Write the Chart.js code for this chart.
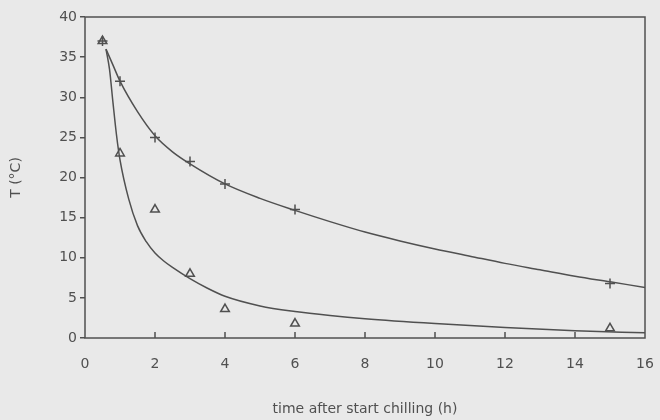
<!DOCTYPE html>
<html>
<head>
<meta charset="utf-8">
<script src="https://cdn.jsdelivr.net/npm/chart.js@4.4.1/dist/chart.umd.min.js"></script>
<style>
  html, body { margin: 0; padding: 0; background: #e9e9e9; }
  #wrap { width: 660px; height: 420px; position: relative; }
</style>
</head>
<body>
<div id="wrap"><canvas id="chart" width="660" height="420"></canvas></div>
<script>
// measured points
const hours = [0.5, 1, 2, 3, 4, 6, 15];
const plusTemps = [37, 32, 25, 22, 19.2, 16, 6.8];
const triTemps = [37, 23, 16, 8, 3.6, 1.8, 1.2];

// fitted curves
const upperFitX = [0.6, 0.8, 1, 1.5, 2, 2.5, 3, 4, 5, 6, 7, 8, 9, 10, 11, 12, 13, 14, 15, 16];
const upperFitT = [36, 34, 32, 28.2, 25.2, 23.2, 21.7, 19.2, 17.4, 15.9, 14.5, 13.2, 12.1, 11.1, 10.2, 9.3, 8.5, 7.7, 7.0, 6.3];
const lowerFitX = [0.6, 0.7, 0.8, 0.9, 1, 1.25, 1.5, 1.75, 2, 2.25, 2.5, 3, 3.5, 4, 5, 6, 7, 8, 10, 12, 14, 16];
const lowerFitT = [36, 33.5, 29.3, 25.3, 22.2, 17.3, 14.0, 12.0, 10.6, 9.6, 8.8, 7.4, 6.2, 5.2, 4.0, 3.3, 2.8, 2.4, 1.8, 1.3, 0.9, 0.65];

const xTicks = [0, 2, 4, 6, 8, 10, 12, 14, 16];
const yTicks = [0, 5, 10, 15, 20, 25, 30, 35, 40];

const ink = '#505050';
const font = { family: 'DejaVu Sans', size: 14 };

const toXY = (xs, ys) => xs.map((x, i) => ({ x: x, y: ys[i] }));

// box round the plot and inward x ticks
const framePlugin = {
  id: 'frame',
  afterDatasetsDraw(chart) {
    const { ctx, chartArea } = chart;
    const xs = chart.scales.x;
    ctx.save();
    ctx.strokeStyle = ink;
    ctx.lineWidth = 1.5;
    ctx.strokeRect(chartArea.left, chartArea.top, chartArea.right - chartArea.left, chartArea.bottom - chartArea.top);
    ctx.beginPath();
    xTicks.slice(1, -1).forEach(v => {
      const px = xs.getPixelForValue(v);
      ctx.moveTo(px, chartArea.bottom);
      ctx.lineTo(px, chartArea.bottom - 6);
    });
    ctx.stroke();
    ctx.restore();
  }
};

new Chart(document.getElementById('chart'), {
  type: 'scatter',
  data: {
    datasets: [
      {
        data: toXY(upperFitX, upperFitT),
        showLine: true,
        borderColor: ink,
        borderWidth: 1.5,
        pointRadius: 0,
        cubicInterpolationMode: 'monotone'
      },
      {
        data: toXY(lowerFitX, lowerFitT),
        showLine: true,
        borderColor: ink,
        borderWidth: 1.5,
        pointRadius: 0,
        cubicInterpolationMode: 'monotone'
      },
      {
        data: toXY(hours, plusTemps),
        pointStyle: 'cross',
        pointRadius: 5,
        borderColor: ink,
        borderWidth: 1.5,
        backgroundColor: ink
      },
      {
        data: toXY(hours, triTemps),
        pointStyle: 'triangle',
        pointRadius: 5,
        borderColor: ink,
        borderWidth: 1.5,
        backgroundColor: 'rgba(0,0,0,0)'
      }
    ]
  },
  options: {
    responsive: false,
    animation: false,
    layout: { padding: { top: 17, right: 15, left: 0, bottom: 0 } },
    plugins: { legend: { display: false }, tooltip: { enabled: false } },
    scales: {
      x: {
        type: 'linear',
        min: 0,
        max: 16,
        afterBuildTicks: s => { s.ticks = xTicks.map(v => ({ value: v })); },
        afterFit: s => { s.height = 82; s.paddingLeft = 0; s.paddingRight = 0; },
        grid: { display: false },
        border: { display: false },
        ticks: { color: ink, font: font, padding: 10, maxRotation: 0 },
        title: {
          display: true,
          text: 'time after start chilling (h)',
          color: ink,
          font: font,
          padding: { top: 0, bottom: 2 }
        }
      },
      y: {
        type: 'linear',
        min: 0,
        max: 40,
        afterBuildTicks: s => { s.ticks = yTicks.map(v => ({ value: v })); },
        afterFit: s => { s.width = 85; s.paddingTop = 0; s.paddingBottom = 0; },
        grid: { drawOnChartArea: false, tickLength: 5, color: ink, lineWidth: 1.5 },
        border: { display: false },
        ticks: { color: ink, font: font, padding: 3 },
        title: {
          display: true,
          text: 'T (°C)',
          color: ink,
          font: font,
          padding: { top: 8, bottom: 0 }
        }
      }
    }
  },
  plugins: [framePlugin]
});
</script>
</body>
</html>
